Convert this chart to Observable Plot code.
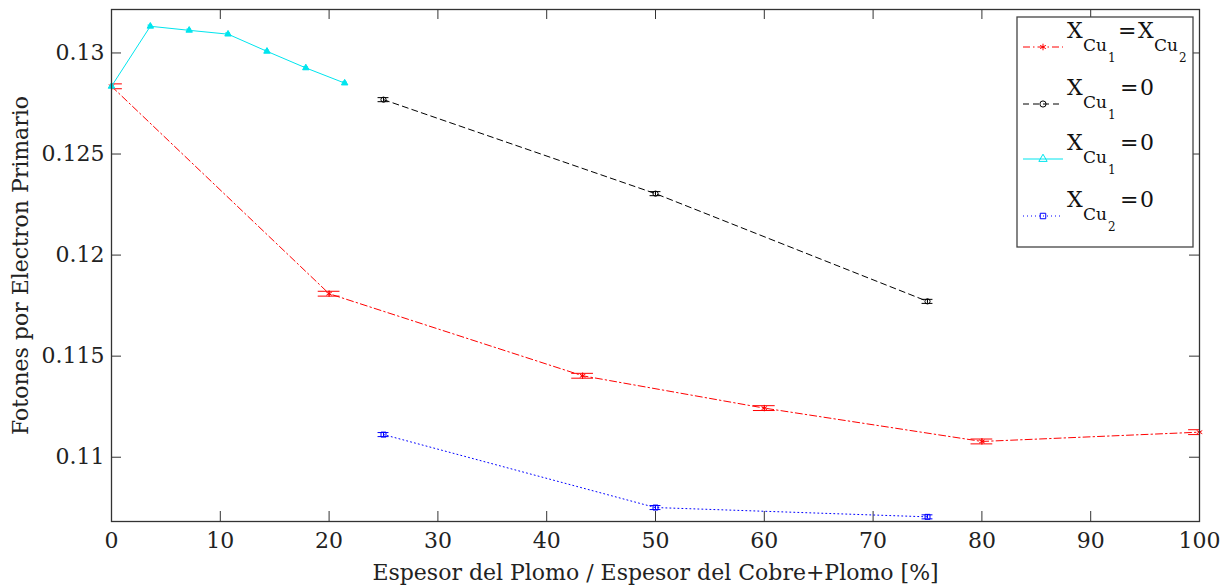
<!DOCTYPE html>
<html><head><meta charset="utf-8">
<script src="https://cdn.jsdelivr.net/npm/d3@7"></script>
<script src="https://cdn.jsdelivr.net/npm/@observablehq/plot@0.6"></script>
<style>body{margin:0;background:#fff}#chart{position:relative;width:1230px;height:587px}
#chart svg text{font-family:"DejaVu Serif",serif}</style>
</head><body><div id="chart"></div>
<script>
// ---- data ----
const xLabel = "Espesor del Plomo / Espesor del Cobre+Plomo [%]";
const yLabel = "Fotones por Electron Primario";
const xTicks = [0, 10, 20, 30, 40, 50, 60, 70, 80, 90, 100];
const yTicks = [0.11, 0.115, 0.12, 0.125, 0.13];

const redX = [0, 20, 43.3, 60, 80, 100];
const redY = [0.12835, 0.11809, 0.11403, 0.11243, 0.11078, 0.11124];
const redErr = [0.00012, 0.00012, 0.00012, 0.00012, 0.00012, 0.00012];

const blackX = [25, 50, 75];
const blackY = [0.12769, 0.12304, 0.11771];
const blackErr = [0.0001, 0.0001, 0.0001];

const cyanX = [0, 3.57, 7.14, 10.71, 14.29, 17.86, 21.43];
const cyanY = [0.12835, 0.13132, 0.13112, 0.13093, 0.13008, 0.12926, 0.12851];
const cyanErr = [0.00006, 0.00006, 0.00006, 0.00006, 0.00006, 0.00006, 0.00006];

const blueX = [25, 50, 75];
const blueY = [0.11112, 0.10751, 0.10705];
const blueErr = [0.0001, 0.0001, 0.0001];

const legendLabels = [
  {sub: "1", rhs: "X", rhsSub: "2"},
  {sub: "1", rhs: "0"},
  {sub: "1", rhs: "0"},
  {sub: "2", rhs: "0"}
];

// ---- styles ----
const series = [
  {x: redX, y: redY, err: redErr, color: "#ff0000", dash: "7,3,1.5,3", symbol: "asterisk", fill: "none", r: 3},
  {x: blackX, y: blackY, err: blackErr, color: "#000000", dash: "6,4", symbol: "circle", fill: "none", r: 2.6},
  {x: cyanX, y: cyanY, err: cyanErr, color: "#00e5ee", dash: null, symbol: "triangle", fill: "#00e5ee", r: 2.4},
  {x: blueX, y: blueY, err: blueErr, color: "#0000ff", dash: "1,3", symbol: "square", fill: "none", r: 2.8}
];

const W = 1230, H = 587, mL = 111, mR = 31, mT = 9, mB = 66;
const pw = W - mL - mR, ph = H - mT - mB;
const tickLen = 10;
const font = "'DejaVu Serif', serif";

const marks = [];
marks.push(Plot.tickX(xTicks, {x: d => d, insetTop: ph - tickLen, stroke: "#333"}));
marks.push(Plot.tickX(xTicks, {x: d => d, insetBottom: ph - tickLen, stroke: "#333"}));
marks.push(Plot.tickY(yTicks, {y: d => d, insetRight: pw - tickLen, stroke: "#333"}));
marks.push(Plot.tickY(yTicks, {y: d => d, insetLeft: pw - tickLen, stroke: "#333"}));

for (const s of series) {
  const cap = (d3.max(s.x) - d3.min(s.x)) / 100;
  const rows = s.x.map((x, i) => ({x, y: s.y[i], lo: s.y[i] - s.err[i], hi: s.y[i] + s.err[i], x1: x - cap, x2: x + cap}));
  marks.push(Plot.line(rows, {x: "x", y: "y", stroke: s.color, strokeWidth: 1, strokeDasharray: s.dash, clip: true}));
  marks.push(Plot.ruleX(rows, {x: "x", y1: "lo", y2: "hi", stroke: s.color, strokeWidth: 1}));
  marks.push(Plot.ruleY(rows, {y: "lo", x1: "x1", x2: "x2", stroke: s.color, strokeWidth: 1, clip: true}));
  marks.push(Plot.ruleY(rows, {y: "hi", x1: "x1", x2: "x2", stroke: s.color, strokeWidth: 1, clip: true}));
  marks.push(Plot.dot(rows, {x: "x", y: "y", symbol: () => s.symbol, r: s.r, stroke: s.color, fill: s.fill, strokeWidth: 1}));
}
marks.push(Plot.frame({stroke: "#333", strokeWidth: 1.3}));
marks.push(Plot.axisX(xTicks, {tickSize: 0, tickPadding: 11, label: xLabel, labelAnchor: "center", labelOffset: 58, labelArrow: "none", fontSize: 22, fontFamily: font}));
marks.push(Plot.axisY(yTicks, {tickSize: 0, tickPadding: 7, label: yLabel, labelAnchor: "center", labelOffset: 99, labelArrow: "none", fontSize: 22, fontFamily: font, tickFormat: d3.format("")}));

const svg = Plot.plot({
  width: W, height: H,
  marginLeft: mL, marginRight: mR, marginTop: mT, marginBottom: mB,
  style: `font-family: ${font}; font-size: 22px; color: #222; background: #fff;`,
  x: {domain: [0, 100]},
  y: {domain: [0.10682, 0.13215]},
  marks
});
document.getElementById("chart").appendChild(svg);

// ---- legend drawn inside the plot svg ----
const symMap = {asterisk: d3.symbolAsterisk, circle: d3.symbolCircle, triangle: d3.symbolTriangle, square: d3.symbolSquare};
const lg = d3.select(svg).append("g").attr("transform", "translate(1017,17)")
  .style("font-family", font).attr("fill", "#111").attr("text-anchor", "start");
lg.append("rect").attr("width", 176).attr("height", 230).attr("fill", "#fff").attr("stroke", "#444").attr("stroke-width", 1.3);
const rowY = [30, 87, 142, 199];
series.forEach((s, i) => {
  const ly = rowY[i];
  lg.append("line").attr("x1", 6).attr("x2", 46).attr("y1", ly).attr("y2", ly)
    .attr("stroke", s.color).attr("stroke-width", 1).attr("stroke-dasharray", s.dash);
  lg.append("path").attr("d", d3.symbol(symMap[s.symbol], 30)()).attr("transform", `translate(26,${ly})`)
    .attr("stroke", s.color).attr("fill", s.symbol === "triangle" ? "none" : s.fill).attr("stroke-width", 1);
  const L = legendLabels[i];
  const txt = lg.append("text").attr("text-anchor", "start");
  const sp = (x, y, size, str) => txt.append("tspan").attr("x", x).attr("y", y).attr("font-size", size).text(str);
  sp(50, ly - 9, 22, "X");
  sp(66, ly + 4, 17, "Cu");
  sp(91, ly + 15, 12, L.sub);
  if (L.rhsSub) {
    sp(101, ly - 9, 22, "=");
    sp(121, ly - 9, 22, L.rhs);
    sp(137, ly + 4, 17, "Cu");
    sp(162, ly + 15, 12, L.rhsSub);
  } else {
    sp(103, ly - 9, 22, "=");
    sp(123, ly - 9, 22, L.rhs);
  }
});
</script>
</body></html>
